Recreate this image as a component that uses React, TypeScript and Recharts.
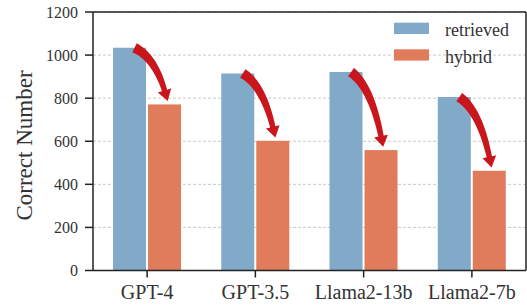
import React from 'react';
import * as R from 'recharts';
import { BarChart, Bar, XAxis, YAxis, CartesianGrid, ReferenceLine } from 'recharts';

const categories = ['GPT-4', 'GPT-3.5', 'Llama2-13b', 'Llama2-7b'];
const retrievedValues = [1034, 915, 921, 805];
const hybridValues = [771, 602, 559, 463];
const yTicks = [0, 200, 400, 600, 800, 1000, 1200];

const data = categories.map((name, i) => ({
  name,
  retrieved: retrievedValues[i],
  hybrid: hybridValues[i],
}));

const BLUE = '#81a9c8';
const ORANGE = '#e07b5b';
const RED = '#c9161c';
const AXIS = '#222';
const TEXT = '#333';
const FONT = 'Liberation Serif';
const BAR_GAP = 2;

function arrowPath(x0: number, y0: number, tipX: number, tipY: number): string {
  const headLen = 11;
  const headHalf = 7;
  const x2 = tipX;
  const y2 = tipY - headLen;
  const cx = x2 - 10;
  const cy = y0 + 0.23 * (y2 - y0);
  const N = 24;
  const left: [number, number][] = [];
  const right: [number, number][] = [];
  let lastN: [number, number] = [1, 0];
  let lastD: [number, number] = [0, 1];
  for (let i = 0; i <= N; i++) {
    const t = i / N;
    const px = (1 - t) * (1 - t) * x0 + 2 * (1 - t) * t * cx + t * t * x2;
    const py = (1 - t) * (1 - t) * y0 + 2 * (1 - t) * t * cy + t * t * y2;
    const dx = 2 * (1 - t) * (cx - x0) + 2 * t * (x2 - cx);
    const dy = 2 * (1 - t) * (cy - y0) + 2 * t * (y2 - cy);
    const len = Math.hypot(dx, dy) || 1;
    const ux = dx / len;
    const uy = dy / len;
    const nx = -uy;
    const ny = ux;
    const hw = 5 - 2.3 * t;
    left.push([px + nx * hw, py + ny * hw]);
    right.push([px - nx * hw, py - ny * hw]);
    lastN = [nx, ny];
    lastD = [ux, uy];
  }
  const hb1: [number, number] = [x2 + lastN[0] * headHalf, y2 + lastN[1] * headHalf];
  const hb2: [number, number] = [x2 - lastN[0] * headHalf, y2 - lastN[1] * headHalf];
  const tip: [number, number] = [x2 + lastD[0] * headLen, y2 + lastD[1] * headLen];
  const pts = [...left, hb1, tip, hb2, ...right.reverse()];
  return 'M' + pts.map((p) => `${p[0].toFixed(2)},${p[1].toFixed(2)}`).join('L') + 'Z';
}

const HybridShape = (props: any) => {
  const { x, y, width, height, payload, fill } = props;
  const base = y + height;
  const scale = height / payload.hybrid;
  const rTop = base - payload.retrieved * scale;
  const rCenter = x - BAR_GAP - width / 2;
  const d = arrowPath(rCenter + 5, rTop, x + width / 2, y - 3);
  return (
    <g>
      <rect x={x} y={y} width={width} height={height} fill={fill} />
      <path d={d} fill={RED} />
    </g>
  );
};

const XTick = (props: any) => {
  const { x, y, payload } = props;
  return (
    <text x={x} y={y + 15} textAnchor="middle" fontFamily={FONT} fontSize={20} fill={TEXT}>
      {payload.value}
    </text>
  );
};

const YTick = (props: any) => {
  const { x, y, payload } = props;
  return (
    <text x={x} y={y + 5.5} textAnchor="end" fontFamily={FONT} fontSize={16} fill={TEXT}>
      {payload.value}
    </text>
  );
};

const anyR: any = R;
const usePlot: any = anyR.usePlotArea || anyR.useOffset || (() => null);

const Frame = () => {
  const area: any = usePlot();
  if (!area) return null;
  const left = area.x ?? area.left;
  const top = area.y ?? area.top;
  const w = area.width;
  const h = area.height;
  if (left == null || top == null || w == null || h == null) return null;
  return (
    <g>
      <line x1={left + w} y1={top} x2={left + w} y2={top + h} stroke={AXIS} strokeWidth={1.5} />
    </g>
  );
};

const legendItems = [
  { label: 'retrieved', color: BLUE },
  { label: 'hybrid', color: ORANGE },
];

export default function App() {
  return (
    <div style={{ position: 'absolute', left: 0, top: 0, width: 527, height: 307, background: '#fff' }}>
      <BarChart
        width={527}
        height={307}
        data={data}
        margin={{ top: 12, right: 1, left: 0, bottom: 0 }}
        barCategoryGap="18.5%"
        barGap={BAR_GAP}
      >
        <CartesianGrid vertical={false} stroke="#c8c8c8" strokeDasharray="3 2" />
        <XAxis
          dataKey="name"
          height={36.5}
          tickSize={7}
          tickMargin={6}
          axisLine={{ stroke: AXIS, strokeWidth: 1.5 }}
          tickLine={{ stroke: AXIS, strokeWidth: 1.5 }}
          tick={<XTick />}
          interval={0}
        />
        <YAxis
          width={93}
          domain={[0, 1200]}
          ticks={yTicks}
          tickSize={8}
          tickMargin={7}
          axisLine={{ stroke: AXIS, strokeWidth: 1.5 }}
          tickLine={{ stroke: AXIS, strokeWidth: 1.5 }}
          tick={<YTick />}
          label={{
            content: () => (
              <text transform="translate(32,145.5) rotate(-90)" textAnchor="middle" fontFamily={FONT} fontSize={23} fill={TEXT}>
                Correct Number
              </text>
            ),
          }}
        />
        <ReferenceLine y={1200} stroke={AXIS} strokeWidth={1.5} ifOverflow="extendDomain" />
        <Bar dataKey="retrieved" fill={BLUE} isAnimationActive={false} />
        <Bar dataKey="hybrid" fill={ORANGE} isAnimationActive={false} shape={HybridShape} />
        <Frame />
      </BarChart>
      <svg width={135} height={55} style={{ position: 'absolute', left: 392, top: 14, display: 'block' }}>
        {legendItems.map((item, i) => (
          <g key={item.label}>
            <rect x={2} y={8.7 + i * 26.6} width={35} height={11.3} fill={item.color} />
            <text x={53} y={22 + i * 26.6} fontFamily={FONT} fontSize={18} fill={TEXT}>
              {item.label}
            </text>
          </g>
        ))}
      </svg>
    </div>
  );
}
